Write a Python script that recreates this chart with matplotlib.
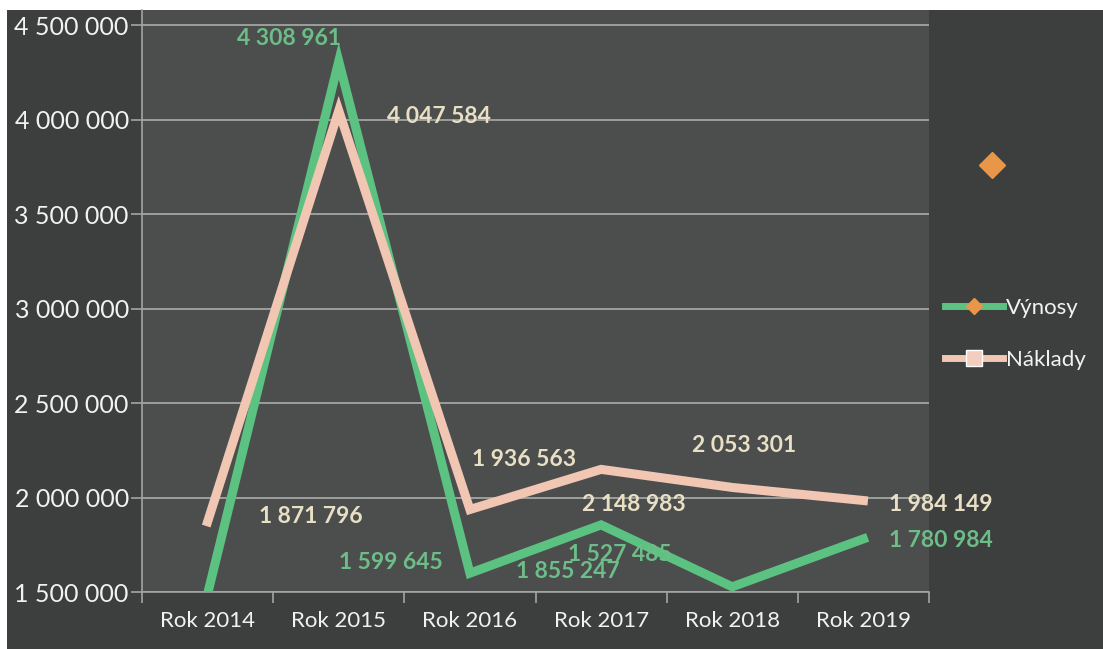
import matplotlib.pyplot as plt
from matplotlib.patches import Rectangle
from matplotlib.lines import Line2D

plt.rcParams['font.family'] = ['Lato', 'DejaVu Sans']

# data
years = ['Rok 2014', 'Rok 2015', 'Rok 2016', 'Rok 2017', 'Rok 2018', 'Rok 2019']
vynosy = [1490000, 4308961, 1599645, 1855247, 1527485, 1780984]
naklady = [1871796, 4047584, 1936563, 2148983, 2053301, 1984149]
vynosy_labels = ['', '4 308 961', '1 599 645', '1 855 247', '1 527 485', '1 780 984']
naklady_labels = ['1 871 796', '4 047 584', '1 936 563', '2 148 983', '2 053 301', '1 984 149']
yticks = [1500000, 2000000, 2500000, 3000000, 3500000, 4000000, 4500000]

# label offsets in pixels (the labels in the scan are shifted around)
off_v = [(0, 0), (-50, 23), (-79, 11), (-33, -47), (-112, 32), (77, -2)]
off_n = [(103, 5), (100, -6), (54, 50), (33, -35), (12, 42), (77, -4)]

green = '#5cc281'
pink = '#f1c6b2'
green_txt = '#6dbd89'
cream_txt = '#e8dfc4'
outer_bg = '#3d3f3e'
plot_bg = '#4c4e4d'
grid_c = '#a3a5a3'
tick_c = '#f2f2f2'

fig = plt.figure(figsize=(11.03, 6.49), dpi=100, facecolor='white')
fig.add_artist(Rectangle((7 / 1103, -0.01), 1, 1.01 - 10 / 649, transform=fig.transFigure,
                         facecolor=outer_bg, edgecolor='none', zorder=-10))

ax = fig.add_axes([142 / 1103, 57 / 649, (929 - 142) / 1103, (592 - 10) / 649])
ax.set_facecolor(plot_bg)

x = list(range(len(years)))
ax.plot(x, vynosy, color=green, lw=6.5, solid_joinstyle='miter', zorder=3)
ax.plot(x, naklady, color=pink, lw=6.5, solid_joinstyle='miter', zorder=4)

for i in x:
    if vynosy_labels[i]:
        ax.annotate(vynosy_labels[i], (i, vynosy[i]), xytext=off_v[i], textcoords='offset pixels',
                    ha='center', va='center', color=green_txt, fontsize=16.5, fontweight='bold', zorder=5)
    ax.annotate(naklady_labels[i], (i, naklady[i]), xytext=off_n[i], textcoords='offset pixels',
                ha='center', va='center', color=cream_txt, fontsize=16.5, fontweight='bold', zorder=5)

ax.set_xlim(-0.5, 5.5)
ax.set_ylim(1500000, 4580000)
ax.set_yticks(yticks)
ax.set_yticklabels([f'{v:,}'.replace(',', ' ') for v in yticks])
ax.set_xticks(x)
ax.set_xticklabels(years)
ax.set_xticks([i - 0.5 for i in range(len(years) + 1)], minor=True)
ax.tick_params(axis='x', which='major', length=0, pad=14, colors=tick_c, labelsize=16)
ax.tick_params(axis='x', which='minor', length=8, width=1.2, color=grid_c)
ax.tick_params(axis='y', length=8, width=1.2, color=grid_c, labelcolor=tick_c, labelsize=18, pad=1.5)

ax.grid(axis='y', color=grid_c, lw=1.3)
ax.set_axisbelow(True)
for s in ['top', 'right']:
    ax.spines[s].set_visible(False)
ax.spines['left'].set_color(grid_c)
ax.spines['bottom'].set_color(grid_c)
ax.spines['left'].set_linewidth(1.2)
ax.spines['bottom'].set_linewidth(1.2)

handles = [Line2D([], [], color=green, lw=5, marker='D', markersize=8,
                  markerfacecolor='#e8964a', markeredgecolor='#e8964a'),
           Line2D([], [], color=pink, lw=5, marker='s', markersize=11,
                  markerfacecolor='#f3cdbd', markeredgecolor='white')]
leg = fig.legend(handles, ['Výnosy', 'Náklady'], loc='upper left',
                 bbox_to_anchor=(945 / 1103, 1 - 298 / 649), frameon=False,
                 fontsize=16, labelspacing=1.45, handlelength=2.6, handletextpad=0.15,
                 borderpad=0, borderaxespad=0)
for t in leg.get_texts():
    t.set_color(tick_c)

# stray orange marker next to the legend in the original
fig.add_artist(Line2D([992 / 1103], [1 - 165 / 649], transform=fig.transFigure,
                      marker='D', markersize=13, color='#e8964a', lw=0))

fig.savefig('out.png', dpi=100, facecolor=fig.get_facecolor())
